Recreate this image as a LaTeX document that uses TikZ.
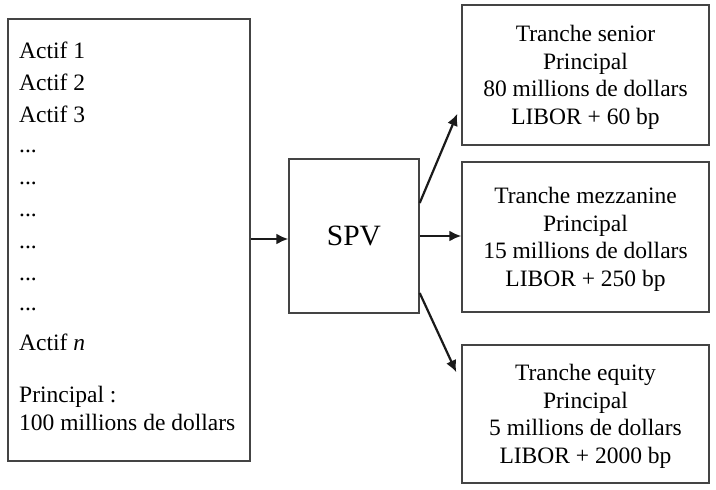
\documentclass[tikz,border=0pt]{standalone}
\usepackage{fontspec}
\setmainfont{Liberation Serif}
\usetikzlibrary{arrows.meta}
\definecolor{boxline}{HTML}{444444}
\definecolor{arrline}{HTML}{1A1A1A}
\newcommand\mydots{...}
\begin{document}
\begin{tikzpicture}[x=1pt,y=1pt]
\tikzset{
  boxnode/.style={draw=boxline, line width=1.4pt, inner sep=0pt, rectangle},
  tranche/.style={boxnode, minimum width=247pt, align=center, font=\fontsize{23.5}{27.5}\selectfont},
  arr/.style={draw=arrline, line width=2.2pt, -{Latex[length=12pt,width=11pt]}},
  lefttext/.style={anchor=base west, inner sep=0pt, font=\fontsize{23.5}{28}\selectfont},
}
\useasboundingbox (0,0) rectangle (716,-490);
\fill[white] (0,0) rectangle (716,-490);

% left box with assets
\node[boxnode, minimum width=242pt, minimum height=442pt] (lbox) at (129,-240) {};
\foreach \t/\y [count=\i] in {Actif 1/58, Actif 2/90, Actif 3/122, \mydots/152, \mydots/184, \mydots/216, \mydots/248, \mydots/280, \mydots/310, {Actif \textit{n}}/350, {Principal :}/402, {100 millions de dollars}/430}
  \node[lefttext] (l\i) at (19,-\y) {\t};

% SPV
\node[boxnode, minimum width=130pt, minimum height=154pt, font=\fontsize{29.5}{34}\selectfont] (spv) at (354,-236) {SPV};

% tranches
\node[tranche, minimum height=140pt] (sen) at (585.5,-75)
  {Tranche senior\\Principal\\80 millions de dollars\\\raisebox{0pt}[\height][0pt]{LIBOR + 60 bp}};
\node[tranche, minimum height=150pt] (mez) at (585.5,-237)
  {Tranche mezzanine\\Principal\\15 millions de dollars\\\raisebox{0pt}[\height][0pt]{LIBOR + 250 bp}};
\node[tranche, minimum height=138pt] (eq) at (585.5,-414)
  {Tranche equity\\Principal\\5 millions de dollars\\\raisebox{0pt}[\height][0pt]{LIBOR + 2000 bp}};

% arrows
\draw[arr] ([yshift=-3pt]spv.west -| lbox.east) -- ([yshift=-3pt]spv.west);
\draw[arr] (spv.east) -- (spv.east -| mez.west);
\draw[arr] ([yshift=33pt]spv.east) -- ([xshift=-4pt,yshift=32pt]sen.south west);
\draw[arr] ([yshift=-57pt]spv.east) -- ([xshift=-5pt,yshift=-28pt]eq.north west);
\end{tikzpicture}
\end{document}
